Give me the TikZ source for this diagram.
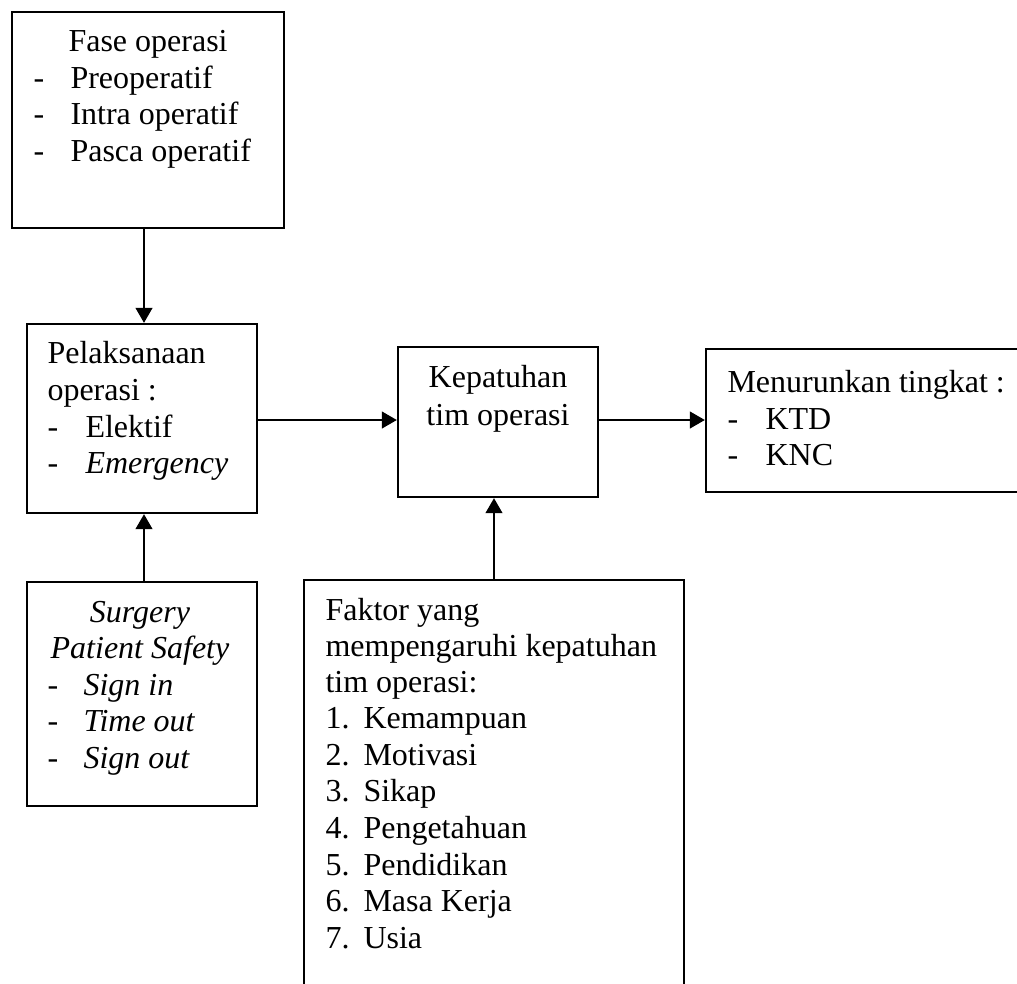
\documentclass[tikz,border=0pt]{standalone}
\usepackage{fontspec}
\setmainfont{Liberation Serif}
\usetikzlibrary{arrows.meta}
\begin{document}
\begin{tikzpicture}[x=0.375pt,y=-0.375pt,
  box/.style={draw,line width=0.85pt,rectangle,inner sep=0pt},
  txt/.style={inner sep=0pt,anchor=base west,font=\fontsize{12}{13.7}\selectfont},
  ctxt/.style={inner sep=0pt,anchor=base,font=\fontsize{12}{13.7}\selectfont},
  arr/.style={line width=0.85pt,-{Triangle[length=5.6pt,width=6.2pt]}}]
\useasboundingbox (0,0) rectangle (1017,983);
\clip (0,0) rectangle (1017,983);
% boxes
\node[box,minimum width=102pt,minimum height=81pt] (fase) at (148,120) {};
\node[box,minimum width=86.25pt,minimum height=70.875pt] (pel) at (142,418.5) {};
\node[box,minimum width=75pt,minimum height=56.25pt] (kep) at (498,422) {};
\node[box,minimum width=121.5pt,minimum height=53.625pt] (men) at (868,420.5) {};
\node[box,minimum width=86.25pt,minimum height=84pt] (sur) at (142,694) {};
\node[box,minimum width=142.5pt,minimum height=157.5pt] (fak) at (494,790) {};
% helper coordinates
\coordinate (xa) at (144,0);
\coordinate (xb) at (494,0);
\coordinate (ya) at (0,420);
% connectors
\draw[arr] (fase.south -| xa) -- (pel.north -| xa);
\draw[arr] (sur.north -| xa) -- (pel.south -| xa);
\draw[arr] (pel.east |- ya) -- (kep.west |- ya);
\draw[arr] (kep.east |- ya) -- (men.west |- ya);
\draw[arr] (fak.north -| xb) -- (kep.south -| xb);
% texts: fase
\node[txt] (f0) at (68,51) {Fase operasi};
\node[txt] (f1d) at (33,88) {-};
\node[txt] (f1) at (70,88) {Preoperatif};
\node[txt] (f2d) at (33,124) {-};
\node[txt] (f2) at (70,124) {Intra operatif};
\node[txt] (f3d) at (33,161) {-};
\node[txt] (f3) at (70,161) {Pasca operatif};
% pelaksanaan
\node[txt] (p0) at (47,363) {Pelaksanaan};
\node[txt] (p1) at (47,400) {operasi :};
\node[txt] (p2d) at (47,437) {-};
\node[txt] (p2) at (85,437) {Elektif};
\node[txt] (p3d) at (47,473) {-};
\node[txt] (p3) at (85,473) {\itshape Emergency};
% kepatuhan
\node[ctxt] (k0) at (498,387) {Kepatuhan};
\node[ctxt] (k1) at (498,425) {tim operasi};
% menurunkan
\node[txt] (m0) at (727,392) {Menurunkan tingkat :};
\node[txt] (m1d) at (727,429) {-};
\node[txt] (m1) at (765,429) {KTD};
\node[txt] (m2d) at (727,465) {-};
\node[txt] (m2) at (765,465) {KNC};
% surgery
\node[ctxt] (s0) at (140,622) {\itshape Surgery};
\node[ctxt] (s1) at (140,658) {\itshape Patient Safety};
\node[txt] (s2d) at (47,695) {-};
\node[txt] (s2) at (83,695) {\itshape Sign in};
\node[txt] (s3d) at (47,731) {-};
\node[txt] (s3) at (83,731) {\itshape Time out};
\node[txt] (s4d) at (47,768) {-};
\node[txt] (s4) at (83,768) {\itshape Sign out};
% faktor
\node[txt] (a0) at (325,620) {Faktor yang};
\node[txt] (a1) at (325,656) {mempengaruhi kepatuhan};
\node[txt] (a2) at (325,692) {tim operasi:};
\foreach \n/\t/\yy in {1/Kemampuan/728,2/Motivasi/765,3/Sikap/801,4/Pengetahuan/838,5/Pendidikan/875,6/Masa Kerja/911,7/Usia/948}{
  \node[txt] (an\n) at (325,\yy) {\n.};
  \node[txt] (at\n) at (363,\yy) {\t};
}
\end{tikzpicture}
\end{document}
